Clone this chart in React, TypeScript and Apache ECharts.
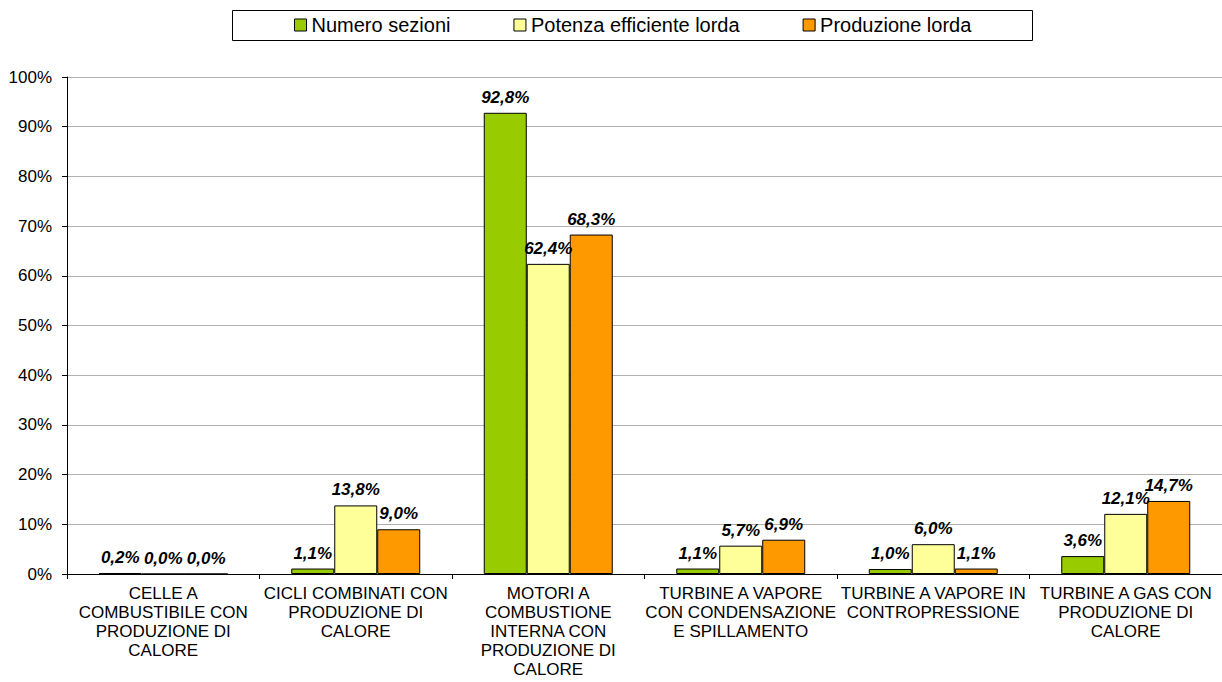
import React, { useEffect, useRef } from "react";
import * as echarts from "echarts";

const categories = [
  "CELLE A\nCOMBUSTIBILE CON\nPRODUZIONE DI\nCALORE",
  "CICLI COMBINATI CON\nPRODUZIONE DI\nCALORE",
  "MOTORI A\nCOMBUSTIONE\nINTERNA CON\nPRODUZIONE DI\nCALORE",
  "TURBINE A VAPORE\nCON CONDENSAZIONE\nE SPILLAMENTO",
  "TURBINE A VAPORE IN\nCONTROPRESSIONE",
  "TURBINE A GAS CON\nPRODUZIONE DI\nCALORE",
];

const seriesNames = ["Numero sezioni", "Potenza efficiente lorda", "Produzione lorda"];
const numeroSezioni = [0.2, 1.1, 92.8, 1.1, 1.0, 3.6];
const potenzaEfficiente = [0.0, 13.8, 62.4, 5.7, 6.0, 12.1];
const produzioneLorda = [0.0, 9.0, 68.3, 6.9, 1.1, 14.7];
const colors = ["#99CC00", "#FFFF99", "#FF9900"];

const FONT = "'Liberation Sans', Arial, sans-serif";

export default function App() {
  const ref = useRef<HTMLDivElement>(null);

  useEffect(() => {
    if (!ref.current) return;
    const chart = echarts.init(ref.current, null, { renderer: "svg" });
    const fmt = (v: number) => v.toFixed(1).replace(".", ",") + "%";
    const mk = (name: string, data: number[], color: string) => ({
      name,
      type: "bar",
      data,
      barGap: "0%",
      barCategoryGap: "33%",
      itemStyle: { color, borderColor: "#000", borderWidth: 1 },
      label: {
        show: true,
        position: "top",
        distance: 7,
        formatter: (p: any) => fmt(p.value),
        fontFamily: FONT,
        fontSize: 17,
        fontWeight: "bold",
        fontStyle: "italic",
        color: "#000",
      },
    });
    chart.setOption({
      animation: false,
      backgroundColor: "#fff",
      textStyle: { fontFamily: FONT },
      legend: {
        left: 294,
        top: 15,
        itemWidth: 12,
        itemHeight: 12,
        itemGap: 63,
        icon: "rect",
        padding: 0,
        textStyle: { fontFamily: FONT, fontSize: 20, color: "#000" },
        itemStyle: { borderColor: "#000", borderWidth: 1 },
        data: seriesNames,
      },
      graphic: [
        {
          type: "rect",
          shape: { x: 232.5, y: 10.5, width: 800, height: 30 },
          style: { fill: "none", stroke: "#000", lineWidth: 1 },
          silent: true,
          z: 10,
        },
      ],
      grid: { left: 67, top: 77, width: 1158, bottom: 108, containLabel: false },
      xAxis: {
        type: "category",
        data: categories,
        axisLine: { lineStyle: { color: "#000", width: 1 } },
        axisTick: { show: true, length: 5, lineStyle: { color: "#000" } },
        axisLabel: {
          interval: 0,
          margin: 10,
          fontFamily: FONT,
          fontSize: 17,
          lineHeight: 19,
          color: "#000",
          align: "center",
        },
      },
      yAxis: {
        type: "value",
        min: 0,
        max: 100,
        interval: 10,
        axisLine: { show: true, lineStyle: { color: "#000", width: 1 } },
        axisTick: { show: true, length: 5, lineStyle: { color: "#000" } },
        axisLabel: {
          formatter: "{value}%",
          margin: 15,
          fontFamily: FONT,
          fontSize: 17,
          color: "#000",
        },
        splitLine: { show: true, lineStyle: { color: "#b0b0b0", width: 1 } },
      },
      series: [
        mk(seriesNames[0], numeroSezioni, colors[0]),
        mk(seriesNames[1], potenzaEfficiente, colors[1]),
        mk(seriesNames[2], produzioneLorda, colors[2]),
      ],
    });
    return () => chart.dispose();
  }, []);

  return (
    <div
      ref={ref}
      style={{ position: "fixed", left: 0, top: 0, width: 1222, height: 682, background: "#fff" }}
    />
  );
}
